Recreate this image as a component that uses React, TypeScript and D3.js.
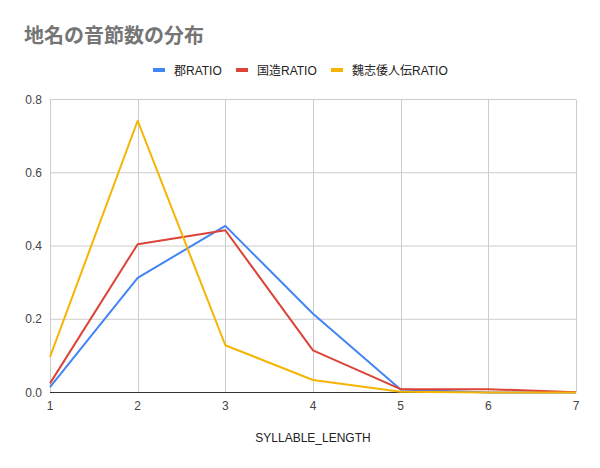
import React, { useEffect, useRef } from 'react';
import * as d3 from 'd3';

const W = 600;
const H = 468;

const lengths = [1, 2, 3, 4, 5, 6, 7];
const gunRatio = [0.015, 0.313, 0.455, 0.215, 0.008, 0.0, 0.0];
const kuniRatio = [0.025, 0.405, 0.443, 0.115, 0.009, 0.009, 0.001];
const gishiRatio = [0.097, 0.742, 0.129, 0.034, 0.002, 0.0, 0.0];
const seriesNames = ['郡RATIO', '国造RATIO', '魏志倭人伝RATIO'];
const seriesColors = ['#4285f4', '#db4437', '#f4b400'];
const yTicks = [0, 0.2, 0.4, 0.6, 0.8];

const title = '地名の音節数の分布';
const xTitle = 'SYLLABLE_LENGTH';

const font = "Arial, 'Liberation Sans', 'Noto Sans CJK JP', sans-serif";

const App: React.FC = () => {
  const ref = useRef<SVGSVGElement>(null);

  useEffect(() => {
    if (!ref.current) return;
    const svg = d3.select(ref.current);
    svg.selectAll('*').remove();

    const x = d3.scaleLinear().domain([1, 7]).range([50, 576]);
    const y = d3.scaleLinear().domain([0, 0.8]).range([392.5, 99.5]);

    svg.append('rect').attr('width', W).attr('height', H).attr('fill', '#fff');

    // title
    svg
      .append('text')
      .attr('x', 24)
      .attr('y', 43)
      .attr('fill', '#757575')
      .style('font-family', "'Noto Sans CJK JP', sans-serif")
      .style('font-size', '20px')
      .style('font-weight', 'bold')
      .text(title);

    // legend
    const legendX = [153, 236, 331];
    seriesNames.forEach((name, i) => {
      const g = svg.append('g').attr('transform', `translate(${legendX[i]},70)`);
      g.append('rect').attr('x', 0).attr('y', -2).attr('width', 12).attr('height', 4).attr('fill', seriesColors[i]);
      g.append('text')
        .attr('x', 21)
        .attr('y', 4.5)
        .attr('fill', '#222')
        .style('font-family', font)
        .style('font-size', '12px')
        .text(name);
    });

    // grid
    const grid = svg.append('g');
    grid
      .selectAll('line.v')
      .data(lengths)
      .enter()
      .append('line')
      .attr('x1', (d) => Math.round(x(d)) + 0.5)
      .attr('x2', (d) => Math.round(x(d)) + 0.5)
      .attr('y1', y(0.8))
      .attr('y2', y(0))
      .attr('stroke', '#cccccc');
    grid
      .selectAll('line.h')
      .data(yTicks.slice(1))
      .enter()
      .append('line')
      .attr('x1', x(1))
      .attr('x2', x(7))
      .attr('y1', (d) => y(d))
      .attr('y2', (d) => y(d))
      .attr('stroke', '#cccccc');

    // y labels
    svg
      .append('g')
      .selectAll('text')
      .data(yTicks)
      .enter()
      .append('text')
      .attr('x', 42)
      .attr('y', (d) => y(d) + 4)
      .attr('text-anchor', 'end')
      .attr('fill', '#444')
      .style('font-family', font)
      .style('font-size', '12px')
      .text((d) => d.toFixed(1));

    // x labels
    svg
      .append('g')
      .selectAll('text')
      .data(lengths)
      .enter()
      .append('text')
      .attr('x', (d) => x(d))
      .attr('y', 410)
      .attr('text-anchor', 'middle')
      .attr('fill', '#444')
      .style('font-family', font)
      .style('font-size', '12px')
      .text((d) => String(d));

    svg
      .append('text')
      .attr('x', 313)
      .attr('y', 442)
      .attr('text-anchor', 'middle')
      .attr('fill', '#222')
      .style('font-family', font)
      .style('font-size', '12px')
      .text(xTitle);

    // baseline
    svg
      .append('line')
      .attr('x1', x(1))
      .attr('x2', x(7))
      .attr('y1', y(0))
      .attr('y2', y(0))
      .attr('stroke', '#333');

    // lines
    const line = d3
      .line<number>()
      .x((_, i) => x(lengths[i]))
      .y((d) => y(d));

    [gunRatio, kuniRatio, gishiRatio].forEach((vals, i) => {
      svg
        .append('path')
        .datum(vals)
        .attr('d', line)
        .attr('fill', 'none')
        .attr('stroke', seriesColors[i])
        .attr('stroke-width', 2)
        .attr('stroke-linejoin', 'round');
    });
  }, []);

  return <svg ref={ref} width={W} height={H} style={{ display: 'block', margin: '-8px' }} />;
};

export default App;
